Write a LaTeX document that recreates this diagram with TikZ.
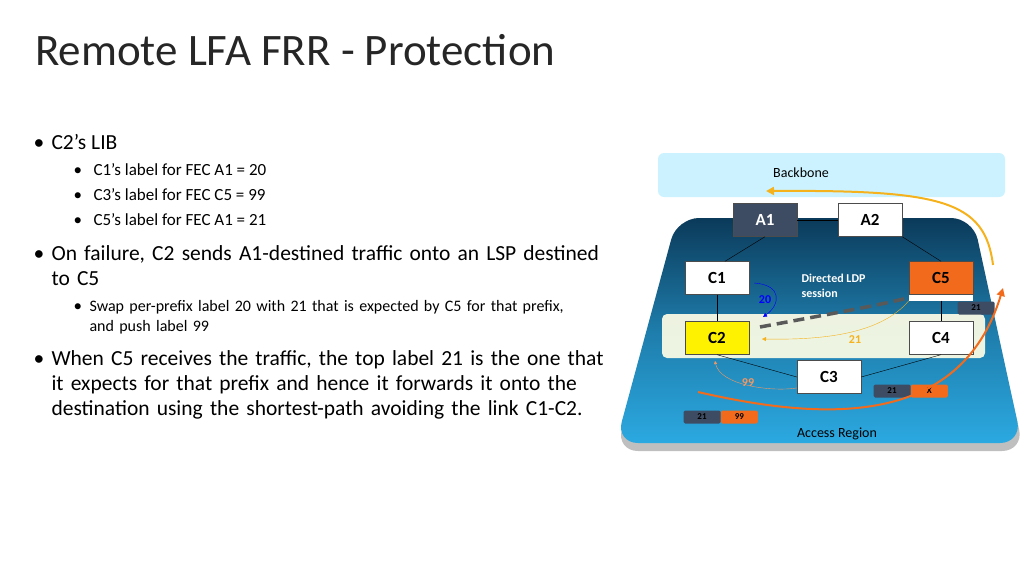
\documentclass[tikz,border=0pt]{standalone}
\usepackage{fontspec}
\setmainfont{Carlito}
\usetikzlibrary{arrows.meta,positioning}
\definecolor{navy}{HTML}{0B3A5A}
\definecolor{skyb}{HTML}{2BA9E1}
\definecolor{slate}{HTML}{3D4B63}
\definecolor{orng}{HTML}{F26B1D}
\definecolor{ylw}{HTML}{F5B21C}
\begin{document}
\begin{tikzpicture}[
    x=1pt, y=-1pt,
    router/.style={draw=black!70, fill=white, minimum width=64pt, minimum height=33pt, font=\bfseries\fontsize{17}{17}\selectfont, inner sep=0},
    tag/.style={rounded corners=1.5pt, minimum width=37pt, minimum height=13pt, inner sep=0, font=\bfseries\fontsize{9}{9}\selectfont},
    bul/.style={anchor=base west, font=\fontsize{21.5}{25}\selectfont},
    subbul/.style={anchor=base west, font=\fontsize{17}{19}\selectfont},
    link/.style={black, thin}]
\useasboundingbox (0,0) rectangle (1024,576);
% title and text
\node[anchor=base west, font=\fontsize{45}{45}\selectfont, text=black!85, inner sep=0] (title) at (35,65) {Remote LFA FRR - Protection};
\node[bul] at (30,149) {•}; \node[bul] (lib) at (48,149) {C2’s LIB};
\foreach \yy/\tx in {175/{C1’s label for FEC A1 = 20},200/{C3’s label for FEC C5 = 99},225/{C5’s label for FEC A1 = 21}}{
  \node[subbul] at (70,\yy) {•}; \node[subbul] at (90,\yy) {\tx};}
\node[bul] at (30,260) {•};
\node[bul, text width=600pt, align=left] (fail) at (48,260) {\raggedright On failure, C2 sends A1-destined traffic onto an LSP destined\\to C5};
\node[subbul] at (70,311) {•};
\node[subbul, text width=560pt, align=left, font=\fontsize{16}{20}\selectfont] (swap) at (86,311) {\raggedright Swap per-prefix label 20 with 21 that is expected by C5 for that prefix,\\and push label 99};
\node[bul] at (30,365) {•};
\node[bul, text width=600pt, align=left] (recv) at (48,365) {\raggedright When C5 receives the traffic, the top label 21 is the one that\\it expects for that prefix and hence it forwards it onto the\\destination using the shortest-path avoiding the link C1-C2.};
% backbone
\fill[blue!25!cyan!25, opacity=0.8, rounded corners=6pt] (658,153) rectangle (1005,197);
\node[font=\fontsize{14}{14}\selectfont] (bb) at (801,173) {Backbone};
% access region
\fill[black!25, rounded corners=22pt] (677,226) -- (973,226) -- (1024,451) -- (616,451) -- cycle;
\shade[top color=navy, bottom color=skyb, middle color=skyb!60!navy, rounded corners=22pt] (677,218) -- (973,218) -- (1022,443) -- (616,443) -- cycle;
\fill[yellow!10, opacity=0.92, rounded corners=5pt] (662,314) rectangle (985,358);
\node[font=\fontsize{14}{14}\selectfont] (acc) at (837,434) {Access Region};
% routers
\node[router, fill=slate, text=white] (A1) at (765,220) {A1};
\node[router] (A2) at (870,220) {A2};
\node[router] (C1) at (717,278) {C1};
\node[router, fill=orng] (C5) at (941,278) {C5};
\fill[white] (C5.south west) rectangle ([yshift=-6pt]C5.south east);
\node[router, fill=yellow] (C2) at (717,338) {C2};
\node[router] (C4) at (941,338) {C4};
\node[router] (C3) at (829,377) {C3};
\draw[link] (A1) -- (A2);
\draw[link] (A1.south) -- ([xshift=8pt]C1.north);
\draw[link] (A2.south east) -- ([yshift=0pt]C5.north);
\draw[link] (C1) -- (C2);
\draw[link] ([yshift=-6pt]C5.south) -- (C4);
\draw[link] (C2.south) -- (C3.west);
\draw[link] (C3.east) -- (C4.south);
% labels
\node[tag, fill=slate] (t1) at (976,308) {21};
\node[tag, fill=slate] (t2) at (892,391) {21};
\node[tag, fill=orng, right=0pt of t2] (t3) {X};
\node[tag, fill=slate] (t4) at (702,417) {21};
\node[tag, fill=orng, right=0pt of t4] (t5) {99};
\node[text=white, font=\bfseries\fontsize{12}{15}\selectfont, align=left, anchor=north west] (ldp) at (798,271) {Directed LDP\\session};
% paths
\draw[blue, thin, -{Triangle[length=4pt,width=4pt]}] ([xshift=5pt,yshift=-5pt]C1.east) .. controls (783,285) and (780,305) .. (763,317);
\node[blue, font=\bfseries\fontsize{12}{12}\selectfont] (l20) at (765,300) {20};
\draw[black!65, line width=3.5pt, dash pattern=on 11pt off 6pt] (760,327) .. controls (830,314) and (880,305) .. ([yshift=-3pt]C5.south west);
\draw[ylw, thin, -{Triangle[length=4pt,width=4pt]}] ([yshift=-6pt]C5.south west) .. controls (880,335) and (820,340) .. (762,339);
\node[ylw, font=\bfseries\fontsize{12}{12}\selectfont] (l21) at (855,340) {21};
\draw[orng!70, thin, -{Triangle[length=3pt,width=3pt]}] (C3.west |- 0,388) .. controls (770,392) and (720,385) .. (715,361);
\node[orng!70, font=\bfseries\fontsize{12}{12}\selectfont] (l99) at (748,383) {99};
\draw[orng, line width=2pt, -{Triangle[length=8pt,width=8pt]}] (698,392) .. controls (820,420) and (960,430) .. (1003,288);
\draw[ylw, line width=2pt, -{Triangle[length=8pt,width=8pt]}] (993,265) .. controls (985,200) and (940,190) .. (766,191);
\end{tikzpicture}
\end{document}
